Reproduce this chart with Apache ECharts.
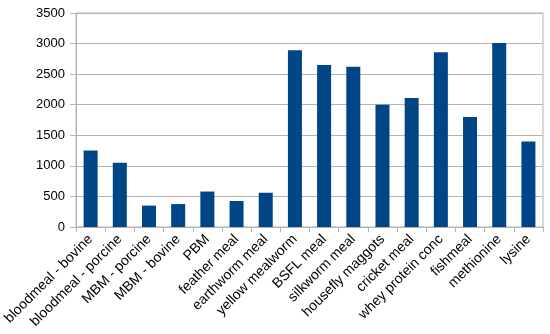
<!DOCTYPE html>
<html><head><meta charset="utf-8">
<script src="https://cdn.jsdelivr.net/npm/echarts@6/dist/echarts.min.js"></script>
<style>html,body{margin:0;padding:0;background:#fff}#c{width:550px;height:334px}</style>
</head><body><div id="c"></div>
<script>
const categories = ["bloodmeal - bovine","bloodmeal - porcine","MBM - porcine","MBM - bovine","PBM","feather meal","earthworm meal","yellow mealworm","BSFL meal","silkworm meal","housefly maggots","cricket meal","whey protein conc","fishmeal","methionine","lysine"];
const values = [1250,1050,350,375,580,425,560,2890,2650,2620,2000,2110,2860,1800,3010,1400];
const yTicks = [0,500,1000,1500,2000,2500,3000,3500];

const chart = echarts.init(document.getElementById('c'));
chart.setOption({
  animation: false,
  grid: {left: 73, right: 7, top: 13, bottom: 107, show: true, borderColor: '#b3b3b3', borderWidth: 1},
  xAxis: {
    type: 'category', data: categories,
    axisLine: {lineStyle: {color: '#b3b3b3'}},
    axisTick: {show: true, length: 5, lineStyle: {color: '#b3b3b3'}},
    axisLabel: {rotate: 45, color: '#000', fontFamily: 'Liberation Sans', fontSize: 14, margin: 10, interval: 0}
  },
  yAxis: {
    type: 'value', min: yTicks[0], max: yTicks[yTicks.length-1], interval: 500,
    axisLine: {show: true, lineStyle: {color: '#b3b3b3'}},
    axisTick: {show: true, length: 6, lineStyle: {color: '#b3b3b3'}},
    splitLine: {lineStyle: {color: '#b3b3b3'}},
    axisLabel: {color: '#000', fontFamily: 'Liberation Sans', fontSize: 13, margin: 11, formatter: v => String(v)}
  },
  series: [{type: 'bar', data: values, barWidth: '48%', itemStyle: {color: '#004586'}}]
});
</script></body></html>
